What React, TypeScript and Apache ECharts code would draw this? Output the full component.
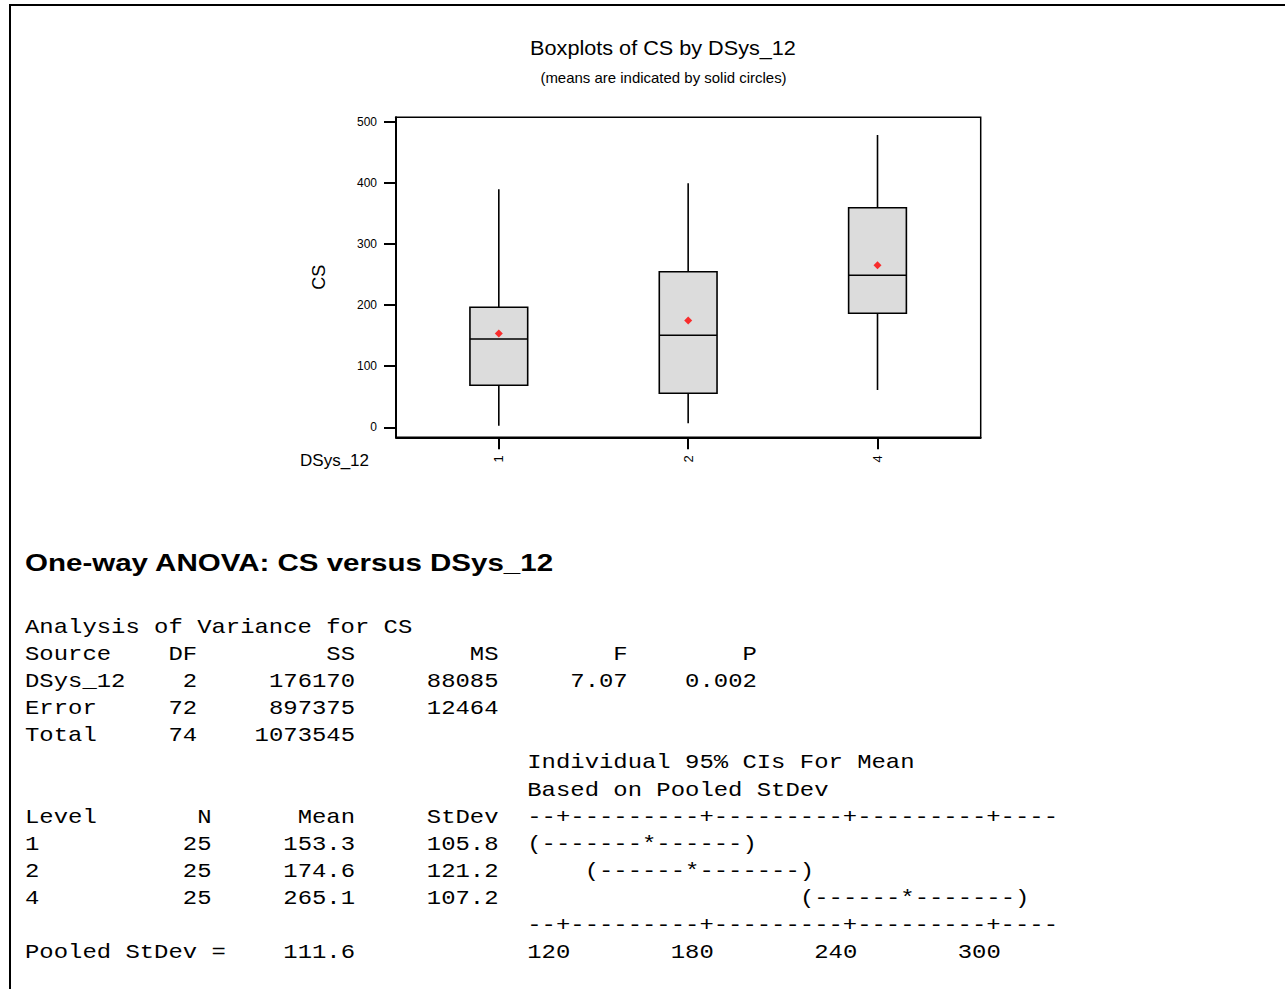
import React, { useEffect, useRef } from "react";
import * as echarts from "echarts";

// ---- Boxplot data ----
const groupLabels = ["1", "2", "4"];
const groupPos = [1, 2, 3];
const boxMin = [2.6, 6.5, 61];
const boxQ1 = [68.7, 55.6, 186.5];
const boxMedian = [144.5, 150.5, 248.7];
const boxQ3 = [196.3, 254.6, 359.3];
const boxMax = [389.4, 399.2, 478.2];
const groupMeans = [153.3, 174.6, 265.1];
const yTicks = [0, 100, 200, 300, 400, 500];

// ---- ANOVA output ----
const anovaHeader = ["Source", "DF", "SS", "MS", "F", "P"];
const anovaSource = ["DSys_12", "Error", "Total"];
const anovaDF = ["2", "72", "74"];
const anovaSS = ["176170", "897375", "1073545"];
const anovaMS = ["88085", "12464", ""];
const anovaF = ["7.07", "", ""];
const anovaP = ["0.002", "", ""];

const levelHeader = ["Level", "N", "Mean", "StDev"];
const levelNames = ["1", "2", "4"];
const levelN = ["25", "25", "25"];
const levelMean = ["153.3", "174.6", "265.1"];
const levelStDev = ["105.8", "121.2", "107.2"];
const ciBars = ["(-------*------)", "(------*-------)", "(------*-------)"];
const ciBarStartCol = [35, 39, 54];
const ciAxisLine = "--+---------+---------+---------+----";
const ciAxisLabels = ["120", "180", "240", "300"];
const pooledStDev = "111.6";

const SANS = 'Arial, "Liberation Sans", sans-serif';
const MONO = '"Courier New", "Liberation Mono", monospace';
const MONO_X0 = 25;
const PITCH = 14.35;
const LINE0 = 628;
const LINE_H = 27.1;
const MONO_FS = 20;
const MONO_SX = PITCH / (MONO_FS * 0.6);

function mono(text: string, col: number, line: number) {
  return {
    type: "text",
    x: MONO_X0 + col * PITCH,
    y: LINE0 + line * LINE_H,
    scaleX: MONO_SX,
    style: {
      text,
      fontFamily: MONO,
      fontSize: MONO_FS,
      fill: "#000",
      textAlign: "left",
      textVerticalAlign: "middle",
      align: "left",
      verticalAlign: "middle",
    },
  };
}
function monoR(text: string, endCol: number, line: number) {
  return mono(text, endCol - text.length + 1, line);
}

function buildTextBlock() {
  const els: any[] = [];
  els.push(mono("Analysis of Variance for CS", 0, 0));
  const hdrCols = [0, 10, 21, 31, 41, 50];
  anovaHeader.forEach((h, i) => els.push(mono(h, hdrCols[i], 1)));
  anovaSource.forEach((s, i) => {
    const line = 2 + i;
    els.push(mono(s, 0, line));
    els.push(monoR(anovaDF[i], 11, line));
    els.push(monoR(anovaSS[i], 22, line));
    if (anovaMS[i]) els.push(monoR(anovaMS[i], 32, line));
    if (anovaF[i]) els.push(monoR(anovaF[i], 41, line));
    if (anovaP[i]) els.push(monoR(anovaP[i], 50, line));
  });
  els.push(mono("Individual 95% CIs For Mean", 35, 5));
  els.push(mono("Based on Pooled StDev", 35, 6));
  els.push(mono(levelHeader[0], 0, 7));
  els.push(monoR(levelHeader[1], 12, 7));
  els.push(monoR(levelHeader[2], 22, 7));
  els.push(monoR(levelHeader[3], 32, 7));
  els.push(mono(ciAxisLine, 35, 7));
  levelNames.forEach((lv, i) => {
    const line = 8 + i;
    els.push(mono(lv, 0, line));
    els.push(monoR(levelN[i], 12, line));
    els.push(monoR(levelMean[i], 22, line));
    els.push(monoR(levelStDev[i], 32, line));
    els.push(mono(ciBars[i], ciBarStartCol[i], line));
  });
  els.push(mono(ciAxisLine, 35, 11));
  els.push(mono("Pooled StDev =", 0, 12));
  els.push(monoR(pooledStDev, 22, 12));
  ciAxisLabels.forEach((t, i) => els.push(mono(t, 35 + i * 10, 12)));
  return els;
}

export default function App() {
  const ref = useRef<HTMLDivElement>(null);
  useEffect(() => {
    if (!ref.current) return;
    const chart = echarts.init(ref.current, undefined, { renderer: "svg" });
    const boxData = groupPos.map((p, i) => [p, boxMin[i], boxQ1[i], boxMedian[i], boxQ3[i], boxMax[i]]);
    const meanData = groupPos.map((p, i) => [p, groupMeans[i]]);

    const option: any = {
      animation: false,
      backgroundColor: "#ffffff",
      textStyle: { fontFamily: SANS },
      grid: {
        left: 396,
        top: 117.3,
        width: 584.7,
        height: 320,
        show: true,
        borderColor: "#000",
        borderWidth: 1.5,
        backgroundColor: "transparent",
      },
      xAxis: {
        type: "value",
        min: 0.457,
        max: 3.545,
        name: "DSys_12",
        nameLocation: "start",
        nameGap: 27,
        nameTextStyle: { fontFamily: SANS, fontSize: 17, color: "#000", align: "right", verticalAlign: "top", padding: [15, 0, 0, 0] },
        axisLine: { show: true, onZero: false, lineStyle: { color: "#000", width: 2 } },
        axisTick: { show: true, length: 12, lineStyle: { color: "#000", width: 2 }, customValues: groupPos },
        axisLabel: {
          customValues: groupPos,
          rotate: 90,
          margin: 18,
          fontSize: 13,
          fontFamily: SANS,
          color: "#000",
          formatter: (v: number) => groupLabels[groupPos.indexOf(Math.round(v))] ?? "",
        },
        splitLine: { show: false },
      },
      yAxis: {
        type: "value",
        min: -16.4,
        max: 507.2,
        name: "CS",
        nameLocation: "middle",
        nameGap: 68,
        nameTextStyle: { fontFamily: SANS, fontSize: 18, color: "#000" },
        axisLine: { show: true, onZero: false, lineStyle: { color: "#000", width: 2 } },
        axisTick: { show: true, length: 12, lineStyle: { color: "#000", width: 2 }, customValues: yTicks },
        axisLabel: { customValues: yTicks, margin: 19, fontSize: 12, fontFamily: SANS, color: "#000" },
        splitLine: { show: false },
      },
      series: [
        {
          type: "custom",
          data: boxData,
          encode: { x: 0, y: [1, 2, 3, 4, 5] },
          renderItem: (params: any, api: any) => {
            const x = api.value(0);
            const c = (v: number) => api.coord([x, v]);
            const pMin = c(api.value(1));
            const pQ1 = c(api.value(2));
            const pMed = c(api.value(3));
            const pQ3 = c(api.value(4));
            const pMax = c(api.value(5));
            const w = api.size([0.305, 0])[0];
            const st = { stroke: "#000", lineWidth: 1.6 };
            return {
              type: "group",
              children: [
                { type: "line", shape: { x1: pMax[0], y1: pMax[1], x2: pQ3[0], y2: pQ3[1] }, style: st },
                { type: "line", shape: { x1: pQ1[0], y1: pQ1[1], x2: pMin[0], y2: pMin[1] }, style: st },
                {
                  type: "rect",
                  shape: { x: pMed[0] - w / 2, y: pQ3[1], width: w, height: pQ1[1] - pQ3[1] },
                  style: { fill: "#DCDCDC", stroke: "#000", lineWidth: 1.6 },
                },
                { type: "line", shape: { x1: pMed[0] - w / 2, y1: pMed[1], x2: pMed[0] + w / 2, y2: pMed[1] }, style: st },
              ],
            };
          },
          z: 2,
        },
        {
          type: "scatter",
          data: meanData,
          symbol: "diamond",
          symbolSize: 8,
          itemStyle: { color: "#FF0000" },
          z: 3,
        },
      ],
      graphic: [
        {
          type: "polyline",
          shape: { points: [[10, 989], [10, 5], [1285, 5]] },
          style: { stroke: "#000", lineWidth: 2, fill: "none" },
        },
        {
          type: "text",
          x: 663,
          y: 48,
          scaleX: 1.11,
          style: {
            text: "Boxplots of CS by DSys_12",
            fontFamily: SANS,
            fontSize: 19.5,
            fill: "#000",
            textAlign: "center",
            textVerticalAlign: "middle",
            align: "center",
            verticalAlign: "middle",
          },
        },
        {
          type: "text",
          x: 663.5,
          y: 78,
          scaleX: 1.07,
          style: {
            text: "(means are indicated by solid circles)",
            fontFamily: SANS,
            fontSize: 14,
            fill: "#000",
            textAlign: "center",
            textVerticalAlign: "middle",
            align: "center",
            verticalAlign: "middle",
          },
        },
        {
          type: "text",
          x: 25,
          y: 563,
          scaleX: 1.23,
          style: {
            text: "One-way ANOVA: CS versus DSys_12",
            fontFamily: SANS,
            fontWeight: "bold",
            fontSize: 24,
            fill: "#000",
            textAlign: "left",
            textVerticalAlign: "middle",
            align: "left",
            verticalAlign: "middle",
          },
        },
        ...buildTextBlock(),
      ],
    };
    chart.setOption(option);
    return () => chart.dispose();
  }, []);
  return (
    <div
      ref={ref}
      style={{ position: "absolute", left: 0, top: 0, width: 1285, height: 989, background: "#fff" }}
    />
  );
}
